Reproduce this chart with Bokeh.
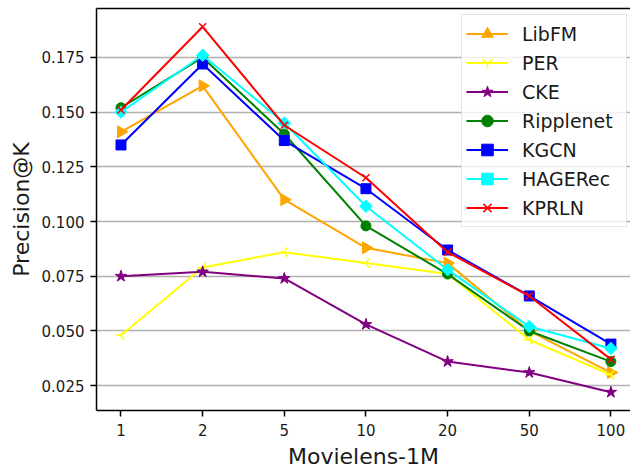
import math

from bokeh.embed import file_html
from bokeh.models import ColumnDataSource, FixedTicker, LinearAxis, NumeralTickFormatter, Range1d
from bokeh.plotting import figure
from bokeh.resources import INLINE

# Top-K cut-offs on the x axis
K_LABELS = ["1", "2", "5", "10", "20", "50", "100"]

# Precision@K per model on Movielens-1M
libfm = [0.141, 0.162, 0.110, 0.088, 0.081, 0.050, 0.031]
per = [0.048, 0.079, 0.086, 0.081, 0.076, 0.046, 0.030]
cke = [0.075, 0.077, 0.074, 0.053, 0.036, 0.031, 0.022]
ripplenet = [0.152, 0.175, 0.140, 0.098, 0.076, 0.050, 0.036]
kgcn = [0.135, 0.172, 0.137, 0.115, 0.087, 0.066, 0.044]
hagerec = [0.150, 0.176, 0.145, 0.107, 0.078, 0.052, 0.042]
kprln = [0.151, 0.189, 0.144, 0.120, 0.086, 0.066, 0.037]

Y_TICKS = [0.025, 0.050, 0.075, 0.100, 0.125, 0.150, 0.175]

FONT = "DejaVu Sans"
xs = list(range(len(K_LABELS)))

p = figure(
    width=630,
    height=471,
    output_backend="svg",
    toolbar_location=None,
    x_range=Range1d(-0.3, 6.24),
    y_range=Range1d(0.01365, 0.19735),
    min_border_left=96,
    min_border_right=0,
    min_border_top=8,
    min_border_bottom=61,
    background_fill_color="white",
    border_fill_color="white",
    outline_line_color=None,
)

# (label, values, colour, marker, size, angle, marker line width)
series = [
    ("LibFM", libfm, "#FFA500", "triangle", 12, -math.pi / 2, 1),
    ("PER", per, "#FFFF00", "y", 11, -math.pi / 2, 1.5),
    ("CKE", cke, "#800080", "star", 12, 0, 1),
    ("Ripplenet", ripplenet, "#008000", "circle", 10, 0, 1),
    ("KGCN", kgcn, "#0000FF", "square", 10, 0, 1),
    ("HAGERec", hagerec, "#00FFFF", "square", 8.8, math.pi / 4, 1),
    ("KPRLN", kprln, "#FF0000", "x", 10, 0, 1.5),
]

for label, ys, color, marker, size, angle, mlw in series:
    src = ColumnDataSource(dict(x=xs, y=ys))
    p.line("x", "y", source=src, line_color=color, line_width=2, legend_label=label)
    p.scatter(
        "x", "y", source=src, marker=marker, size=size, angle=angle,
        fill_color=color, line_color=color, line_width=mlw,
        legend_label=label,
    )

# Axes
for ax in (p.xaxis[0], p.yaxis[0]):
    ax.axis_line_color = "black"
    ax.axis_line_width = 1.5
    ax.major_tick_line_color = "black"
    ax.major_tick_line_width = 1.5
    ax.major_tick_out = 6
    ax.major_tick_in = 0
    ax.minor_tick_line_color = None
    ax.major_label_text_font = FONT
    ax.major_label_text_font_size = "15px"
    ax.major_label_text_color = "#1a1a1a"
    ax.axis_label_text_font = FONT
    ax.axis_label_text_font_size = "22px"
    ax.axis_label_text_font_style = "normal"
    ax.axis_label_text_color = "#1a1a1a"

p.xaxis.ticker = FixedTicker(ticks=xs)
p.xaxis.major_label_overrides = {i: t for i, t in enumerate(K_LABELS)}
p.xaxis.major_label_standoff = 7
p.xaxis.axis_label = "Movielens-1M"
p.xaxis.axis_label_standoff = 5

p.yaxis.ticker = FixedTicker(ticks=Y_TICKS)
p.yaxis.formatter = NumeralTickFormatter(format="0.000")
p.yaxis.major_label_standoff = 6
p.yaxis.axis_label = "Precision@K"
p.yaxis.axis_label_standoff = 5

# Top border of the frame
top = LinearAxis(
    ticker=FixedTicker(ticks=[]),
    axis_line_color="black",
    axis_line_width=1.5,
    major_tick_line_color=None,
    minor_tick_line_color=None,
    major_label_text_font_size="0px",
)
p.add_layout(top, "above")

# Grid: horizontal lines only
p.xgrid.grid_line_color = None
p.ygrid.grid_line_color = "#b0b0b0"
p.ygrid.grid_line_width = 1.5

# Legend
lg = p.legend[0]
lg.location = (365, 183)
lg.label_text_font = FONT
lg.label_text_font_size = "19px"
lg.label_text_color = "#1a1a1a"
lg.glyph_width = 42
lg.glyph_height = 29
lg.label_height = 29
lg.label_width = 100
lg.label_standoff = 14
lg.spacing = 0
lg.padding = 4
lg.margin = 0
lg.border_line_color = "#cccccc"
lg.border_line_width = 1
lg.background_fill_color = "white"
lg.background_fill_alpha = 0.8

open("out.html", "w").write(file_html(p, INLINE))
